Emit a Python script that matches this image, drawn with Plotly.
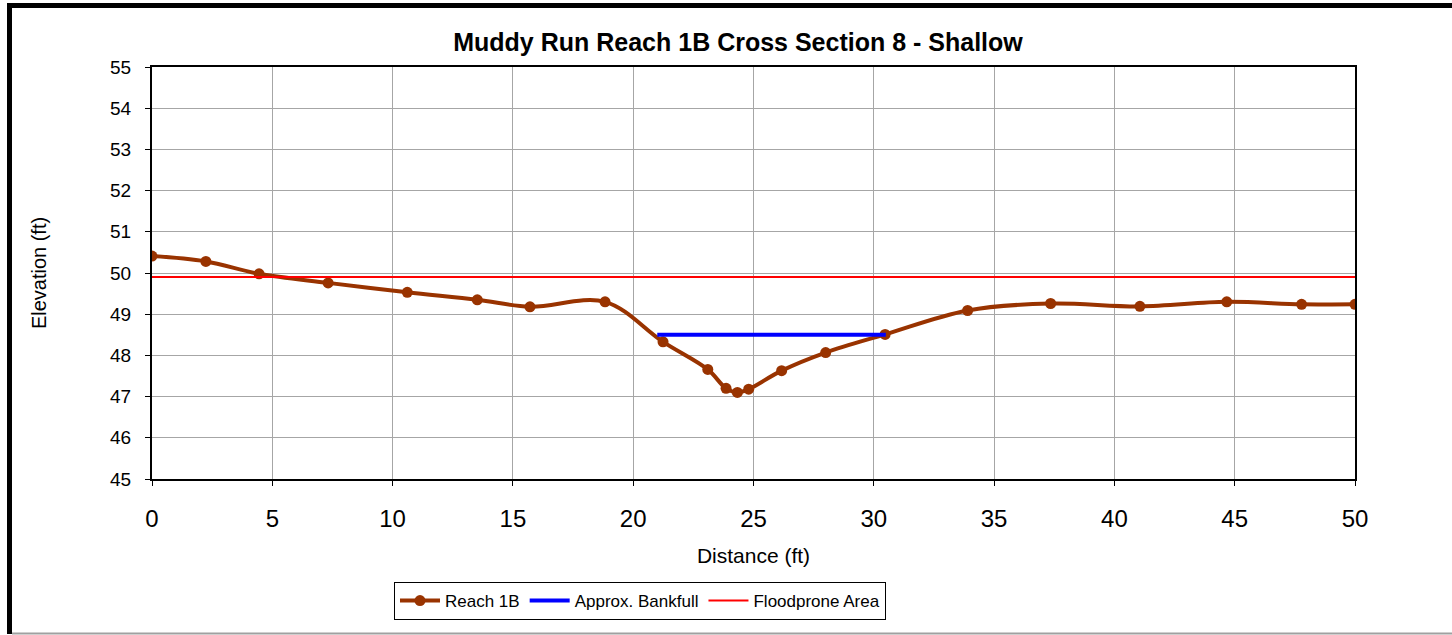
import plotly.graph_objects as go

# Data
reach_x = [0, 2.24, 4.45, 7.32, 10.61, 13.52, 15.71, 18.83, 21.24, 23.1, 23.86, 24.33,
           24.8, 26.17, 28.0, 30.47, 33.9, 37.35, 41.06, 44.67, 47.78, 50.0]
reach_y = [50.41, 50.28, 49.98, 49.76, 49.53, 49.35, 49.18, 49.30, 48.33, 47.66, 47.2, 47.1,
           47.18, 47.63, 48.07, 48.51, 49.09, 49.26, 49.19, 49.30, 49.24, 49.24]
bankfull_x = [21.0, 30.5]
bankfull_y = [48.5, 48.5]
flood_x = [0, 50]
flood_y = [49.9, 49.9]

x_ticks = list(range(0, 51, 5))
y_ticks = list(range(45, 56, 1))

FONT = "Arial, Liberation Sans, sans-serif"

fig = go.Figure()
fig.add_trace(go.Scatter(
    x=reach_x, y=reach_y, name="Reach 1B", mode="lines+markers",
    line=dict(color="#993300", width=4, shape="spline", smoothing=1.0),
    marker=dict(color="#993300", size=11),
))
fig.add_trace(go.Scatter(
    x=bankfull_x, y=bankfull_y, name="Approx. Bankfull", mode="lines",
    line=dict(color="#0000FF", width=4),
))
fig.add_trace(go.Scatter(
    x=flood_x, y=flood_y, name="Floodprone Area", mode="lines",
    line=dict(color="#FF0000", width=2),
))

W, H = 1452, 635
L, R, T, B = 152, 1355, 67, 479
pw, ph = R - L, B - T


def px_x(px):
    return (px - L) / pw


def px_y(py):
    return (B - py) / ph


axis_common = dict(
    showline=True, linecolor="black", linewidth=2, mirror=True,
    showgrid=True, gridcolor="#a6a6a6", gridwidth=1,
    ticks="outside", ticklen=5, tickcolor="black", tickwidth=1,
    zeroline=False,
)

fig.update_layout(
    width=W, height=H,
    margin=dict(l=L, r=W - R, t=T, b=H - B),
    paper_bgcolor="white", plot_bgcolor="white",
    font=dict(family=FONT, color="black"),
    title=dict(
        text="<b>Muddy Run Reach 1B Cross Section 8 - Shallow</b>",
        font=dict(family=FONT, size=25, color="black"),
        x=738 / W, xref="container", xanchor="center",
        y=1 - 42 / H, yref="container", yanchor="middle",
    ),
    xaxis=dict(
        range=[0, 50], tickvals=x_ticks,
        tickfont=dict(size=24, family=FONT),
        ticklabelstandoff=12,
        title=dict(text="Distance (ft)", font=dict(size=21, family=FONT), standoff=18),
        **axis_common,
    ),
    yaxis=dict(
        range=[45, 55], tickvals=y_ticks,
        tickfont=dict(size=19, family=FONT),
        ticklabelstandoff=10,
        title=dict(text="Elevation (ft)", font=dict(size=20, family=FONT), standoff=58),
        **axis_common,
    ),
    legend=dict(
        orientation="h",
        x=px_x(640), xanchor="center",
        y=px_y(601), yanchor="middle",
        bgcolor="white", bordercolor="black", borderwidth=1,
        font=dict(size=17, family=FONT),
        itemwidth=40,
    ),
    showlegend=True,
    shapes=[
        dict(type="line", xref="paper", yref="paper",
             x0=px_x(9.5), x1=px_x(9.5), y0=px_y(3), y1=px_y(634),
             line=dict(color="black", width=5)),
        dict(type="line", xref="paper", yref="paper",
             x0=px_x(7), x1=px_x(1460), y0=px_y(5.5), y1=px_y(5.5),
             line=dict(color="black", width=5)),
        dict(type="line", xref="paper", yref="paper",
             x0=px_x(12), x1=px_x(1460), y0=px_y(633.5), y1=px_y(633.5),
             line=dict(color="#a0a0a0", width=2)),
    ],
)

fig.write_html("out.html",
               config={"displayModeBar": False},
               post_script="document.body.style.margin='0';document.body.style.padding='0';")
